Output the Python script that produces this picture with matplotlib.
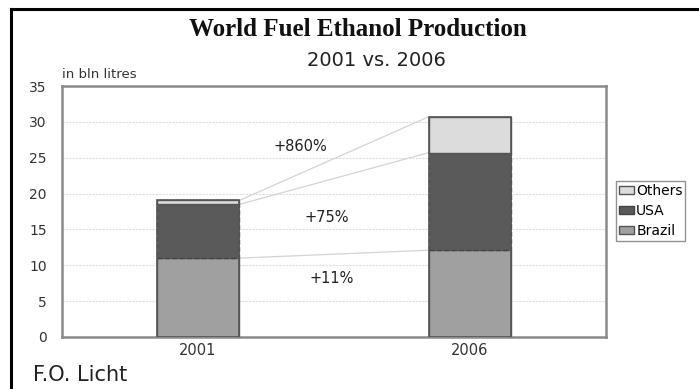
import matplotlib
matplotlib.use("Agg")
import matplotlib.pyplot as plt
from matplotlib.patches import Patch
from matplotlib.lines import Line2D
import numpy as np

years = ["2001", "2006"]
brazil = [11.0, 12.1]
usa = [7.5, 13.6]
others = [0.55, 5.0]
growth_labels = ["+11%", "+75%", "+860%"]
y_ticks = [0, 5, 10, 15, 20, 25, 30, 35]

fig = plt.figure(figsize=(6.99, 3.89), dpi=100)
W, H = 699, 389

# outer frame (top and left edges visible)
fig.add_artist(Line2D([11 / W, 11 / W], [0, 1 - 9 / H], color="black", lw=2.2))
fig.add_artist(Line2D([11 / W, 1], [1 - 9 / H, 1 - 9 / H], color="black", lw=2.2))

ax = fig.add_axes([62 / W, 1 - 337 / H, 544 / W, (337 - 86) / H])
x = np.arange(len(years))
width = 0.305

col_brazil = "#a0a0a0"
col_usa = "#5a5a5a"
col_others = "#dcdcdc"

ax.bar(x, brazil, width, color=col_brazil, edgecolor="#555555", lw=1.0, zorder=3)
ax.bar(x, usa, width, bottom=brazil, color=col_usa, edgecolor="#444444", lw=1.0,
       linestyle="--", zorder=3)
bottom2 = [b + u for b, u in zip(brazil, usa)]
ax.bar(x, others, width, bottom=bottom2, color=col_others, edgecolor="#555555", lw=1.0,
       zorder=3)
# solid outline around each full bar
totals = [b + o for b, o in zip(bottom2, others)]
ax.bar(x, totals, width, fill=False, edgecolor="#555555", lw=1.2, zorder=4)

# connector lines between segment tops
tops_a = [brazil[0], bottom2[0], totals[0]]
tops_b = [brazil[1], bottom2[1], totals[1]]
for ya, yb in zip(tops_a, tops_b):
    ax.plot([x[0] + width / 2, x[1] - width / 2], [ya, yb], color="#d4d4d4", lw=0.9, zorder=2)

# growth labels
label_pos = [(0.49, 8.2), (0.475, 16.7), (0.375, 26.5)]
for (lx, ly), txt in zip(label_pos, growth_labels):
    ax.text(lx, ly, txt, ha="center", va="center", fontsize=10.5, color="#222222", zorder=5)

ax.set_xlim(-0.5, 1.5)
ax.set_ylim(0, 35)
ax.set_yticks(y_ticks)
ax.set_yticklabels([str(t) for t in y_ticks], fontsize=10, color="#333333")
ax.set_xticks(x)
ax.set_xticklabels(years, fontsize=10.5, color="#333333")
ax.tick_params(axis="y", length=0, pad=11)
ax.tick_params(axis="x", length=0, pad=4)
ax.yaxis.grid(True, color="#dedede", lw=0.8, linestyle=(0, (2, 1)), zorder=0)
ax.set_axisbelow(True)
for s in ax.spines.values():
    s.set_color("#8a8a8a")
    s.set_linewidth(1.8)

fig.text(358 / W, 1 - 30 / H, "World Fuel Ethanol Production", ha="center", va="center",
         fontsize=18, fontweight="bold", family="Liberation Serif", color="#111111")
fig.text(376 / W, 1 - 61 / H, "2001 vs. 2006", ha="center", va="center", fontsize=14,
         color="#222222")
fig.text(62 / W, 1 - 74 / H, "in bln litres", ha="left", va="center", fontsize=9.5,
         color="#333333")
fig.text(33 / W, 1 - 375 / H, "F.O. Licht", ha="left", va="center", fontsize=15,
         color="#222222")

handles = [Patch(facecolor=col_others, edgecolor="#555555"),
           Patch(facecolor=col_usa, edgecolor="#444444"),
           Patch(facecolor=col_brazil, edgecolor="#555555")]
leg = fig.legend(handles, ["Others", "USA", "Brazil"], loc="upper left",
                 bbox_to_anchor=(616 / W, 1 - 181 / H), fontsize=10, frameon=True,
                 fancybox=False, handlelength=1.1, handleheight=0.5, handletextpad=0.15,
                 borderpad=0.2, labelspacing=0.45, borderaxespad=0)
leg.get_frame().set_edgecolor("#777777")
leg.get_frame().set_linewidth(1.0)

fig.savefig("out.png", dpi=100)
